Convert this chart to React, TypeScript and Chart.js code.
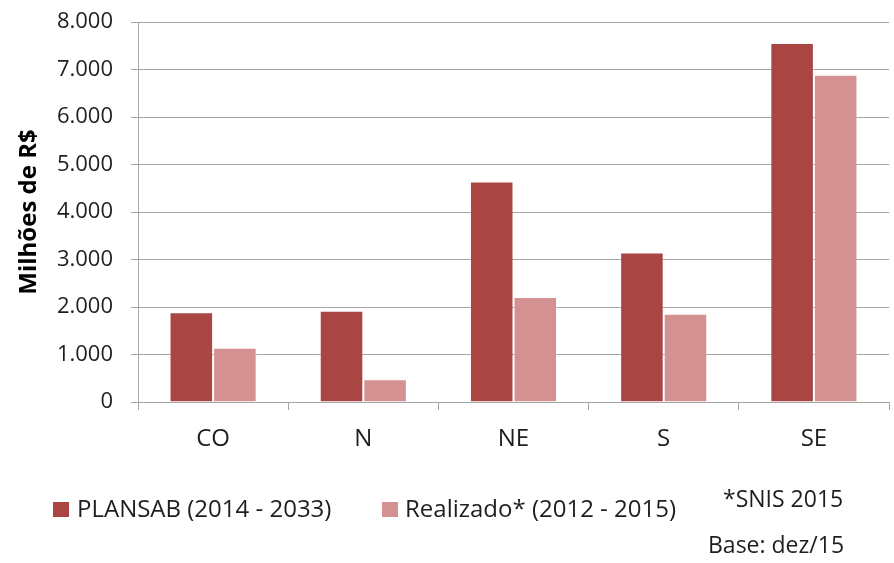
import React, { useEffect, useRef } from "react";
import { Chart, registerables } from "chart.js";

Chart.register(...registerables);

const categories = ["CO", "N", "NE", "S", "SE"];
const plansabLabel = "PLANSAB (2014 - 2033)";
const realizadoLabel = "Realizado* (2012 - 2015)";
const plansabValues = [1890, 1920, 4640, 3150, 7560];
const realizadoValues = [1140, 480, 2210, 1860, 6890];
const plansabColor = "#A94644";
const realizadoColor = "#D39291";
const yTitle = "Milhões de R$";
const noteSource = "*SNIS 2015";
const noteBase = "Base: dez/15";

const FONT = "'Open Sans', 'Liberation Sans', sans-serif";
const TEXT = "#1e1e1e";
const GRID = "#A6A6A6";

const fmt = (v: number) => String(v).replace(/\B(?=(\d{3})+(?!\d))/g, ".");

export default function App() {
  const ref = useRef<HTMLCanvasElement | null>(null);

  useEffect(() => {
    if (!ref.current) return;
    const chart = new Chart(ref.current, {
      type: "bar",
      data: {
        labels: categories,
        datasets: [
          {
            label: plansabLabel,
            data: plansabValues,
            backgroundColor: plansabColor,
            borderColor: "rgba(255,255,255,0.25)",
            borderWidth: 1,
            categoryPercentage: 0.58,
            barPercentage: 1.0,
          },
          {
            label: realizadoLabel,
            data: realizadoValues,
            backgroundColor: realizadoColor,
            borderColor: "rgba(255,255,255,0.35)",
            borderWidth: 1,
            categoryPercentage: 0.58,
            barPercentage: 1.0,
          },
        ],
      },
      options: {
        responsive: false,
        animation: false,
        devicePixelRatio: 1,
        layout: { padding: { top: 22, right: 5, bottom: 101, left: 0 } },
        plugins: {
          legend: { display: false },
          tooltip: { enabled: false },
          title: { display: false },
        },
        scales: {
          x: {
            offset: true,
            grid: {
              display: true,
              drawOnChartArea: false,
              offset: true,
              tickLength: 8,
              color: GRID,
              lineWidth: 1,
            },
            border: { display: true, color: GRID, width: 1 },
            ticks: {
              color: TEXT,
              font: { family: FONT, size: 24 },
              padding: 15,
            },
            afterFit: (s: any) => {
              s.height = 60;
            },
          },
          y: {
            min: 0,
            max: 8000,
            grid: { color: GRID, lineWidth: 1, tickLength: 7 },
            border: { display: true, color: GRID, width: 1 },
            ticks: {
              stepSize: 1000,
              color: TEXT,
              font: { family: FONT, size: 22, lineHeight: 0.3 },
              padding: 18,
              callback: (v: any) => fmt(Number(v)),
            },
            title: {
              display: true,
              text: yTitle,
              color: "#000",
              font: { family: FONT, size: 24, weight: "bold" },
              padding: { top: 15, bottom: 0 },
            },
            afterFit: (s: any) => {
              s.width = 138;
            },
          },
        },
      },
    });
    return () => chart.destroy();
  }, []);

  const legendText: React.CSSProperties = {
    position: "absolute",
    fontFamily: FONT,
    fontSize: 24,
    lineHeight: "24px",
    color: TEXT,
    whiteSpace: "nowrap",
  };

  return (
    <div
      style={{
        position: "absolute",
        left: 0,
        top: 0,
        width: 894,
        height: 563,
        background: "#fff",
        overflow: "hidden",
      }}
    >
      <canvas ref={ref} width={894} height={563} style={{ display: "block" }} />
      <div style={{ position: "absolute", left: 53, top: 502, width: 16, height: 15, background: plansabColor }} />
      <div style={{ ...legendText, left: 77, top: 496 }}>{plansabLabel}</div>
      <div style={{ position: "absolute", left: 382, top: 502, width: 16, height: 15, background: realizadoColor }} />
      <div style={{ ...legendText, left: 405, top: 496 }}>{realizadoLabel}</div>
      <div style={{ ...legendText, left: 723, top: 486, fontSize: 23 }}>{noteSource}</div>
      <div style={{ ...legendText, left: 708, top: 532, fontSize: 23 }}>{noteBase}</div>
    </div>
  );
}
